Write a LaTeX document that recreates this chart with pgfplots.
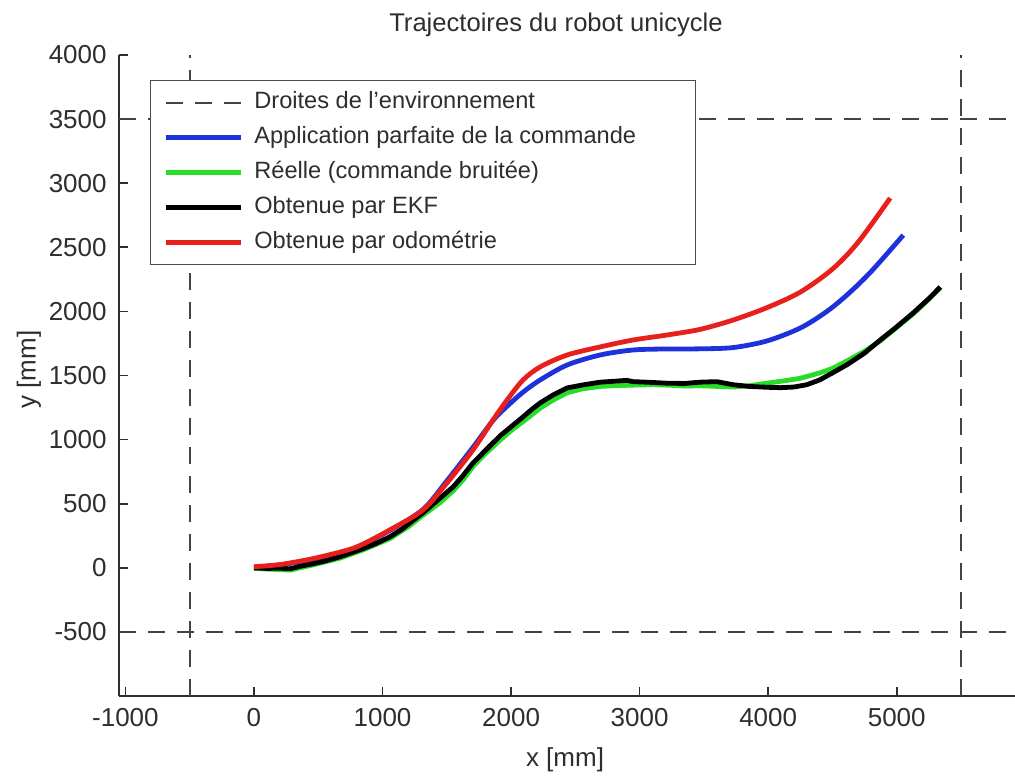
\documentclass[border=0pt]{standalone}
\usepackage{fontspec}
\setmainfont{Liberation Sans}
\usepackage{pgfplots}
\pgfplotsset{compat=1.18}
\definecolor{txt}{HTML}{2E2E2E}
\definecolor{dashc}{HTML}{444444}
\definecolor{cblue}{RGB}{30,50,220}
\definecolor{cgreen}{RGB}{40,220,40}
\definecolor{cred}{RGB}{232,32,28}
\begin{document}
\begin{tikzpicture}
\begin{axis}[name=ax, scale only axis, width=448pt, height=320.5pt,
  xmin=-1050, xmax=5920, ymin=-1000, ymax=4000,
  axis x line*=bottom, axis y line*=left,
  every non boxed x axis/.style={}, every non boxed y axis/.style={},
  axis line style={draw=txt, line width=0.9pt, -},
  xtick={-1000,0,...,5000}, ytick={-500,0,...,4000},
  tick align=inside, major tick length=4.5pt,
  tick style={draw=txt, line width=0.8pt},
  /pgf/number format/assume math mode=true, /pgf/number format/1000 sep={},
  tick label style={font=\fontsize{13}{15}\selectfont, text=txt, inner sep=0pt},
  xticklabel style={yshift=-6pt}, yticklabel style={xshift=-6pt},
  legend style={at={(axis cs:-809,3804)}, anchor=north west,
    draw=gray!60!black, line width=0.6pt, fill=white,
    inner xsep=6.5pt, inner ysep=5.5pt, row sep=6.5pt, column sep=5.5pt,
    font=\fontsize{11.8}{14}\selectfont, text=txt,
    nodes={inner sep=0pt, text height=8.5pt, text depth=2.5pt}},
  legend cell align=left,
  legend image code/.code={\draw[#1] (0pt,0pt) -- (37.5pt,0pt);},
  dashline/.style={draw=dashc, line width=0.8pt, dash pattern=on 8.5pt off 6pt},
]
\addplot[dashline] coordinates {(-1050,3500) (5920,3500)};
\addlegendentry{\makebox[214pt][l]{Droites de l'environnement}}
\addplot[dashline, forget plot] coordinates {(-1050,-500) (5920,-500)};
\addplot[dashline, forget plot] coordinates {(-500,-1000) (-500,4000)};
\addplot[dashline, forget plot] coordinates {(5500,-1000) (5500,4000)};

\addplot[cblue, line width=2.4pt, smooth] coordinates {
(0,5)(200,22)(412,58)(600,100)(802,160)(1058,292)(1315,455)(1502,680)(1704,940)
(1860,1150)(1969,1260)(2093,1370)(2226,1465)(2436,1582)(2693,1660)(2949,1699)
(3214,1707)(3471,1708)(3728,1718)(3992,1770)(4249,1870)(4450,1995)(4615,2130)
(4800,2310)(5051,2595)};
\addlegendentry{Application parfaite de la commande}

\addplot[cgreen, line width=2.4pt] coordinates {
(0,-5)(150,-12)(280,-18)(450,20)(669,75)(850,140)(1058,228)(1200,320)(1315,410)
(1450,510)(1549,600)(1630,690)(1704,790)(1800,890)(1914,995)(2000,1070)(2093,1140)
(2226,1245)(2330,1310)(2436,1365)(2550,1395)(2693,1415)(2800,1420)(2949,1425)
(3100,1428)(3214,1425)(3350,1418)(3471,1420)(3600,1415)(3728,1410)(3850,1420)
(3992,1440)(4120,1458)(4249,1478)(4400,1520)(4500,1555)(4615,1615)(4750,1690)
(4872,1770)(5000,1875)(5128,1980)(5250,2095)(5339,2185)};
\addlegendentry{Réelle (commande bruitée)}

\addplot[black, line width=2.4pt] coordinates {
(0,0)(100,-5)(200,-3)(280,-8)(350,10)(450,30)(550,52)(669,86)(760,118)(850,150)
(950,190)(1058,242)(1150,300)(1240,372)(1315,429)(1420,520)(1549,631)(1620,712)
(1704,818)(1800,915)(1914,1029)(2000,1100)(2093,1177)(2160,1235)(2226,1286)
(2330,1350)(2436,1403)(2550,1425)(2693,1448)(2800,1455)(2900,1462)(2949,1452)
(3050,1448)(3214,1440)(3350,1438)(3471,1448)(3600,1452)(3728,1428)(3850,1415)
(3992,1408)(4093,1405)(4200,1410)(4300,1428)(4400,1465)(4500,1520)(4615,1585)
(4750,1675)(4872,1777)(5000,1880)(5128,1988)(5250,2100)(5339,2190)};
\addlegendentry{Obtenue par EKF}

\addplot[cred, line width=2.4pt, smooth] coordinates {
(0,8)(200,25)(412,62)(600,105)(802,164)(1058,296)(1315,452)(1502,663)(1704,920)
(1860,1154)(1969,1309)(2093,1465)(2226,1567)(2436,1660)(2693,1723)(2949,1777)
(3214,1816)(3471,1860)(3728,1933)(3992,2030)(4249,2150)(4500,2330)(4700,2540)
(4949,2884)};
\addlegendentry{Obtenue par odométrie}
\end{axis}
\node[font=\fontsize{12.8}{15}\selectfont, text=txt] at ([xshift=-5.5pt,yshift=15pt]ax.north) {Trajectoires du robot unicycle};
\node[font=\fontsize{13}{15}\selectfont, text=txt] at ([xshift=-1pt,yshift=-32pt]ax.south) {x [mm]};
\node[rotate=90, font=\fontsize{13}{15}\selectfont, text=txt] at ([xshift=-45pt,yshift=3pt]ax.west) {y [mm]};
\pgfresetboundingbox
\useasboundingbox ([xshift=-59.5pt,yshift=-39.5pt]ax.south west) rectangle ([yshift=348pt]ax.south east);
\end{tikzpicture}
\end{document}
